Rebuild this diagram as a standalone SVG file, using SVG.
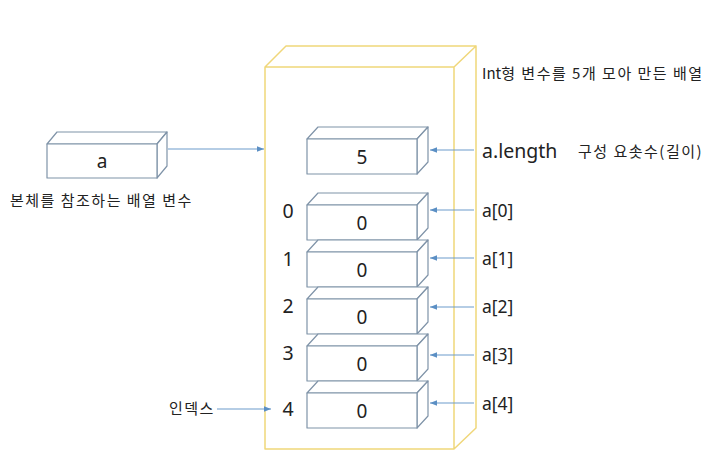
<svg xmlns="http://www.w3.org/2000/svg" width="718" height="462" viewBox="0 0 718 462">
<defs>
<marker id="ah" viewBox="0 0 10 10" refX="10" refY="5" markerWidth="7" markerHeight="7" markerUnits="userSpaceOnUse" orient="auto">
<path d="M0,1 L10,5 L0,9 Z" fill="#5b8fc4"/>
</marker>
<style>
.t{font-family:"Noto Sans","Noto Sans CJK KR",sans-serif;fill:#222}
.k{font-family:"Noto Sans CJK KR","Noto Sans",sans-serif;fill:#222;font-size:15px;letter-spacing:1.5px}
.bx{fill:#fff;stroke:#7f93a8;stroke-width:1.2;stroke-linejoin:round}
.yb{fill:none;stroke:#f0d77a;stroke-width:1.5;stroke-linejoin:round}
.ar{stroke:#6d9bcb;stroke-width:1.2;fill:none;marker-end:url(#ah)}
.v{font-size:19px;text-anchor:middle}
.i{font-size:19.5px;text-anchor:middle}
</style>
</defs>
<rect width="718" height="462" fill="#fff"/>
<g id="array">
<path class="yb" d="M265,67 L286,46 L476,46 L454,67 Z M454,67 L476,46 L476,428 L454,449 Z M265,67 L454,67 L454,449 L265,449 Z"/>
<text class="k" x="482" y="79"><tspan letter-spacing="0">Int</tspan>형 변수를 5개 모아 만든 배열</text>
</g>
<g id="ref-a">
<path class="bx" d="M47,144 L57,132 L167,132 L157,144 Z"/>
<path class="bx" d="M157,144 L167,132 L167,166 L157,178 Z"/>
<rect class="bx" x="47" y="144" width="110" height="34"/>
<text class="t v" x="102" y="168">a</text>
<text class="k" x="10" y="206" letter-spacing="1.7">본체를 참조하는 배열 변수</text>
</g>
<g id="length">
<path class="bx" d="M307,139 L318,127 L428,127 L417,139 Z"/>
<path class="bx" d="M417,139 L428,127 L428,162 L417,174 Z"/>
<rect class="bx" x="307" y="139" width="110" height="35"/>
<text class="t v" x="362" y="164">5</text>
<text class="t" x="482" y="158" font-size="19.5">a.length</text>
<text class="k" x="578" y="157">구성 요솟수(길이)</text>
</g>
<g id="elem0">
<path class="bx" d="M307,205 L318,193 L428,193 L417,205 Z"/>
<path class="bx" d="M417,205 L428,193 L428,228 L417,240 Z"/>
<rect class="bx" x="307" y="205" width="110" height="35"/>
<text class="t v" x="362" y="230">0</text>
<text class="t i" x="288" y="218">0</text>
<text class="t" x="482" y="217" font-size="17.5">a[0]</text>
</g>
<g id="elem1">
<path class="bx" d="M307,252 L318,240 L428,240 L417,252 Z"/>
<path class="bx" d="M417,252 L428,240 L428,275 L417,287 Z"/>
<rect class="bx" x="307" y="252" width="110" height="35"/>
<text class="t v" x="362" y="277">0</text>
<text class="t i" x="288" y="266">1</text>
<text class="t" x="482" y="265" font-size="17.5">a[1]</text>
</g>
<g id="elem2">
<path class="bx" d="M307,299 L318,287 L428,287 L417,299 Z"/>
<path class="bx" d="M417,299 L428,287 L428,322 L417,334 Z"/>
<rect class="bx" x="307" y="299" width="110" height="35"/>
<text class="t v" x="362" y="324">0</text>
<text class="t i" x="288" y="313">2</text>
<text class="t" x="482" y="313" font-size="17.5">a[2]</text>
</g>
<g id="elem3">
<path class="bx" d="M307,346 L318,334 L428,334 L417,346 Z"/>
<path class="bx" d="M417,346 L428,334 L428,369 L417,381 Z"/>
<rect class="bx" x="307" y="346" width="110" height="35"/>
<text class="t v" x="362" y="371">0</text>
<text class="t i" x="288" y="360">3</text>
<text class="t" x="482" y="361" font-size="17.5">a[3]</text>
</g>
<g id="elem4">
<path class="bx" d="M307,393 L318,381 L428,381 L417,393 Z"/>
<path class="bx" d="M417,393 L428,381 L428,416 L417,428 Z"/>
<rect class="bx" x="307" y="393" width="110" height="35"/>
<text class="t v" x="362" y="418">0</text>
<text class="t i" x="288" y="416">4</text>
<text class="t" x="482" y="410" font-size="17.5">a[4]</text>
<text class="k" x="169" y="414" letter-spacing="0.5">인덱스</text>
</g>
<g id="connectors">
<line class="ar" x1="168" y1="149" x2="264" y2="149"/>
<line class="ar" x1="474" y1="150" x2="430" y2="150"/>
<line class="ar" x1="474" y1="210" x2="430" y2="210"/>
<line class="ar" x1="474" y1="258" x2="430" y2="258"/>
<line class="ar" x1="474" y1="307" x2="430" y2="307"/>
<line class="ar" x1="474" y1="355" x2="430" y2="355"/>
<line class="ar" x1="474" y1="403" x2="430" y2="403"/>
<line class="ar" x1="217" y1="409" x2="271" y2="409"/>
</g>
</svg>
